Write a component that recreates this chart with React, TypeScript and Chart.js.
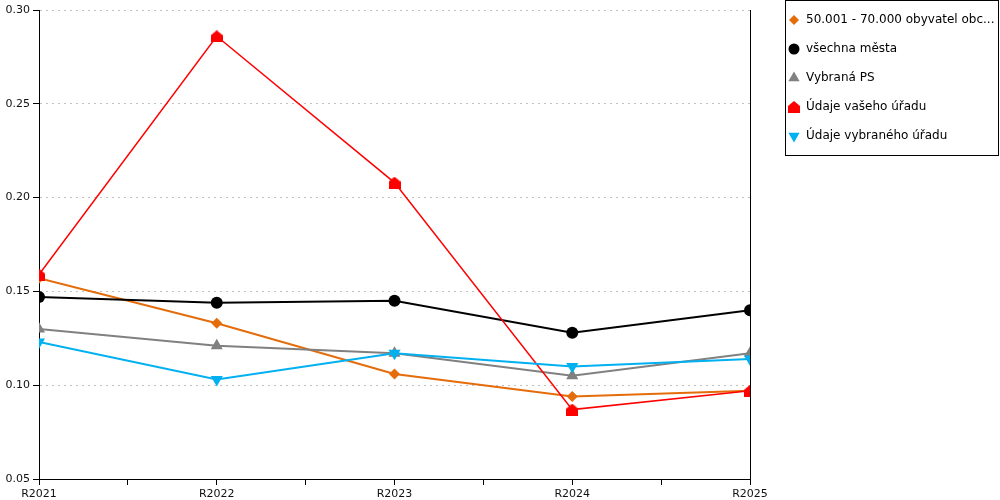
import { Chart, registerables, type Plugin } from 'chart.js'
import { drawPoint } from 'chart.js/helpers'
import { useEffect, useRef } from 'react'

Chart.register(...registerables)

const categories = ['R2021', 'R2022', 'R2023', 'R2024', 'R2025']
const seriesNames = [
  '50.001 - 70.000 obyvatel obc...',
  'všechna města',
  'Vybraná PS',
  'Údaje vašeho úřadu',
  'Údaje vybraného úřadu',
]
const obyvatel = [0.157, 0.133, 0.106, 0.094, 0.097]
const vsechnaMesta = [0.147, 0.144, 0.145, 0.128, 0.14]
const vybranaPS = [0.13, 0.121, 0.117, 0.105, 0.117]
const vasUrad = [0.159, 0.286, 0.208, 0.087, 0.097]
const vybranyUrad = [0.123, 0.103, 0.117, 0.11, 0.114]
const yTicks = [0.05, 0.1, 0.15, 0.2, 0.25, 0.3]

const FONT = 'DejaVu Sans'

function makeHouse(color: string) {
  const c = document.createElement('canvas')
  c.width = 12
  c.height = 12
  const ctx = c.getContext('2d')!
  ctx.fillStyle = color
  ctx.beginPath()
  ctx.moveTo(6, 0)
  ctx.lineTo(12, 5)
  ctx.lineTo(12, 12)
  ctx.lineTo(0, 12)
  ctx.lineTo(0, 5)
  ctx.closePath()
  ctx.fill()
  return c
}

type Style = { color: string; pointStyle: any; radius: number; rotation: number; width: number }

function buildStyles(): Style[] {
  return [
    { color: '#e46c0a', pointStyle: 'rectRot', radius: 5.5, rotation: 0, width: 2 },
    { color: '#000000', pointStyle: 'circle', radius: 6, rotation: 0, width: 2 },
    { color: '#808080', pointStyle: 'triangle', radius: 7, rotation: 0, width: 2 },
    { color: '#ff0000', pointStyle: makeHouse('#ff0000'), radius: 6, rotation: 0, width: 1.5 },
    { color: '#00b0f0', pointStyle: 'triangle', radius: 7, rotation: 180, width: 2 },
  ]
}

const frame: Plugin = {
  id: 'frame',
  beforeDatasetsDraw(chart) {
    const { ctx, chartArea } = chart
    ctx.save()
    ctx.strokeStyle = '#000'
    ctx.lineWidth = 1
    ctx.beginPath()
    ctx.moveTo(Math.round(chartArea.right) + 0.5, chartArea.top)
    ctx.lineTo(Math.round(chartArea.right) + 0.5, chartArea.bottom)
    ctx.stroke()
    ctx.restore()
  },
}

function legendBox(styles: Style[]): Plugin {
  return {
    id: 'legendBox',
    afterDraw(chart) {
      const { ctx } = chart
      ctx.save()
      ctx.strokeStyle = '#000'
      ctx.lineWidth = 1
      ctx.strokeRect(785.5, 0.5, 213, 155)
      ctx.font = `12px "${FONT}"`
      ctx.textBaseline = 'middle'
      seriesNames.forEach((name, i) => {
        const y = 20 + i * 29
        const s = styles[i]
        ctx.fillStyle = s.color
        drawPoint(
          ctx,
          {
            pointStyle: s.pointStyle,
            radius: s.radius - 0.5,
            rotation: s.rotation,
            borderWidth: 0,
          } as any,
          794,
          y,
        )
        ctx.fillStyle = '#000'
        ctx.fillText(name, 806, y)
      })
      ctx.restore()
    },
  }
}

export default function App() {
  const canvasRef = useRef<HTMLCanvasElement | null>(null)

  useEffect(() => {
    const canvas = canvasRef.current
    if (!canvas) {
      return
    }
    const styles = buildStyles()
    const values = [obyvatel, vsechnaMesta, vybranaPS, vasUrad, vybranyUrad]

    const chart = new Chart(canvas, {
      type: 'line',
      data: {
        datasets: values.map((vals, i) => ({
          label: seriesNames[i],
          data: vals.map((y, x) => ({ x, y })),
          borderColor: styles[i].color,
          backgroundColor: styles[i].color,
          borderWidth: styles[i].width,
          pointStyle: styles[i].pointStyle,
          pointRadius: styles[i].radius,
          pointRotation: styles[i].rotation,
          pointBorderWidth: 0,
          pointBackgroundColor: styles[i].color,
          tension: 0,
          order: values.length - i,
        })),
      },
      options: {
        animation: false,
        responsive: true,
        maintainAspectRatio: false,
        layout: { padding: { top: 10, right: 250, left: 0, bottom: 0 } },
        plugins: {
          legend: { display: false },
          tooltip: { enabled: false },
        },
        scales: {
          x: {
            type: 'linear',
            min: 0,
            max: categories.length - 1,
            afterFit: (scale) => {
              scale.height = 21
            },
            ticks: {
              stepSize: 0.5,
              autoSkip: false,
              maxRotation: 0,
              padding: 3,
              color: '#111',
              font: { family: FONT, size: 11 },
              callback: (v) => (Number.isInteger(v) ? categories[v as number] : ''),
            },
            grid: {
              drawOnChartArea: false,
              drawTicks: true,
              tickLength: 6,
              tickColor: '#000',
            },
            border: { color: '#000', width: 1 },
          },
          y: {
            min: yTicks[0],
            max: yTicks[yTicks.length - 1],
            afterFit: (scale) => {
              scale.width = 39
            },
            afterBuildTicks: (scale) => {
              scale.ticks = yTicks.map((value) => ({ value }))
            },
            ticks: {
              padding: 3,
              color: '#111',
              font: { family: FONT, size: 11 },
              callback: (v) => Number(v).toFixed(2),
            },
            grid: {
              color: '#c0c0c0',
              tickColor: '#000',
              tickLength: 6,
            },
            border: { color: '#000', width: 1, dash: [2, 4] },
          },
        },
      },
      plugins: [frame, legendBox(styles)],
    })

    return () => {
      chart.destroy()
    }
  }, [])

  return (
    <div style={{ position: 'fixed', left: 0, top: 0, width: 1000, height: 500, background: '#fff' }}>
      <canvas ref={canvasRef} />
    </div>
  )
}
